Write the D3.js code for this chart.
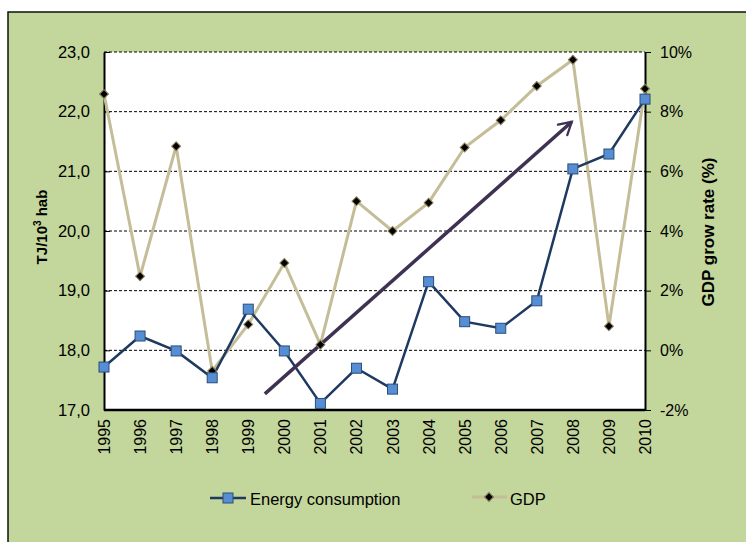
<!DOCTYPE html>
<html>
<head>
<meta charset="utf-8">
<script src="https://cdn.jsdelivr.net/npm/d3@7"></script>
<style>
  body { margin: 0; background: #fff; }
  svg { display: block; font-family: "Liberation Sans", Arial, sans-serif; }
</style>
</head>
<body>
<svg id="chart" width="746" height="542"></svg>
<script>
const years = [1995, 1996, 1997, 1998, 1999, 2000, 2001, 2002, 2003, 2004, 2005, 2006, 2007, 2008, 2009, 2010];
const energy = [17.72, 18.24, 17.99, 17.54, 18.69, 17.99, 17.11, 17.70, 17.35, 19.15, 18.48, 18.37, 18.83, 21.04, 21.29, 22.21];
const gdp = [8.59, 2.48, 6.84, -0.69, 0.87, 2.93, 0.19, 5.00, 4.00, 4.95, 6.80, 7.71, 8.86, 9.74, 0.81, 8.77];
const leftTicks = [17, 18, 19, 20, 21, 22, 23];
const rightTicks = [-2, 0, 2, 4, 6, 8, 10];
// trend arrow, in data units (year, TJ)
const trend = [[1999.46, 17.27], [2007.97, 21.83]];

const svg = d3.select('#chart');
const margin = { left: 104, right: 101, top: 52, bottom: 132 };
const w = 746 - margin.left - margin.right;
const h = 542 - margin.top - margin.bottom;

// chart background
svg.append('rect')
    .attr('x', 8).attr('y', 12)
    .attr('width', 746).attr('height', 542)
    .attr('fill', '#c3d69b')
    .attr('stroke', '#111').attr('stroke-width', 1.5);

const x = d3.scaleLinear().domain([1995, 2010]).range([0, w]);
const yL = d3.scaleLinear().domain([17, 23]).range([h, 0]);
const yR = d3.scaleLinear().domain([-2, 10]).range([h, 0]);

const g = svg.append('g').attr('transform', `translate(${margin.left},${margin.top})`);

g.append('rect').attr('width', w).attr('height', h).attr('fill', '#fff');

// dashed gridlines
g.selectAll('.grid')
    .data(leftTicks.slice(1))
    .enter()
    .append('line')
    .attr('x1', 0).attr('x2', w)
    .attr('y1', d => yL(d)).attr('y2', d => yL(d))
    .attr('stroke', '#000')
    .attr('stroke-width', 1)
    .attr('stroke-dasharray', '3,2');

// left axis
const leftAxis = g.append('g')
    .call(d3.axisLeft(yL).tickValues(leftTicks).tickSizeInner(-6).tickSizeOuter(0).tickPadding(14)
        .tickFormat(d => d3.format('.1f')(d).replace('.', ',')));
leftAxis.select('.domain').attr('stroke-width', 2);
leftAxis.selectAll('text').attr('font-size', 16.5).attr('fill', '#000');

// right axis
const rightAxis = g.append('g')
    .attr('transform', `translate(${w},0)`)
    .call(d3.axisRight(yR).tickValues(rightTicks).tickSize(6).tickSizeOuter(0).tickPadding(9)
        .tickFormat(d => d + '%'));
rightAxis.select('.domain').attr('stroke-width', 2);
rightAxis.selectAll('text').attr('font-size', 16).attr('fill', '#000');

// bottom axis
g.append('line')
    .attr('x1', 0).attr('x2', w)
    .attr('y1', h).attr('y2', h)
    .attr('stroke', '#000').attr('stroke-width', 2.5);

g.selectAll('.year')
    .data(years)
    .enter()
    .append('text')
    .attr('transform', d => `translate(${x(d) + 6},${h + 9}) rotate(-90)`)
    .attr('text-anchor', 'end')
    .attr('font-size', 16)
    .text(d => d);

// axis titles
svg.append('text')
    .attr('transform', 'translate(47,227) rotate(-90)')
    .attr('text-anchor', 'middle')
    .attr('font-size', 15)
    .attr('font-weight', 'bold')
    .html('TJ/10<tspan font-size="10" dy="-6">3</tspan><tspan dy="6"> hab</tspan>');

svg.append('text')
    .attr('transform', 'translate(714,232) rotate(-90)')
    .attr('text-anchor', 'middle')
    .attr('font-size', 17)
    .attr('font-weight', 'bold')
    .text('GDP grow rate (%)');

// GDP series
const gdpLine = d3.line().x((d, i) => x(years[i])).y(d => yR(d));
g.append('path')
    .datum(gdp)
    .attr('d', gdpLine)
    .attr('fill', 'none')
    .attr('stroke', '#c4bd97')
    .attr('stroke-width', 3);

// Energy series
const enLine = d3.line().x((d, i) => x(years[i])).y(d => yL(d));
g.append('path')
    .datum(energy)
    .attr('d', enLine)
    .attr('fill', 'none')
    .attr('stroke', '#1f3a60')
    .attr('stroke-width', 2.5);

// trend arrow
svg.append('defs').append('marker')
    .attr('id', 'arrow')
    .attr('viewBox', '0 0 10 10')
    .attr('refX', 8).attr('refY', 5)
    .attr('markerWidth', 5).attr('markerHeight', 5)
    .attr('markerUnits', 'strokeWidth')
    .attr('orient', 'auto')
    .append('path')
    .attr('d', 'M1,1 L8,5 L1,9')
    .attr('fill', 'none')
    .attr('stroke', '#3f3151')
    .attr('stroke-width', 1.3)
    .attr('stroke-linecap', 'round');

g.append('line')
    .attr('x1', x(trend[0][0])).attr('y1', yL(trend[0][1]))
    .attr('x2', x(trend[1][0])).attr('y2', yL(trend[1][1]))
    .attr('stroke', '#3f3151')
    .attr('stroke-width', 3.5)
    .attr('marker-end', 'url(#arrow)');

const diamond = d3.symbol().type(d3.symbolSquare).size(40);

g.selectAll('.gdpPt')
    .data(gdp)
    .enter()
    .append('path')
    .attr('transform', (d, i) => `translate(${x(years[i])},${yR(d)}) rotate(45)`)
    .attr('d', diamond)
    .attr('fill', '#000')
    .attr('stroke', '#8b8158')
    .attr('stroke-width', 1);

g.selectAll('.enPt')
    .data(energy)
    .enter()
    .append('rect')
    .attr('x', (d, i) => x(years[i]) - 5)
    .attr('y', d => yL(d) - 5)
    .attr('width', 10).attr('height', 10)
    .attr('fill', '#558ed5')
    .attr('stroke', '#2c4d75')
    .attr('stroke-width', 1);

// legend
const leg = svg.append('g');
leg.append('line').attr('x1', 210).attr('x2', 246).attr('y1', 498).attr('y2', 498)
    .attr('stroke', '#1f3a60').attr('stroke-width', 2.5);
leg.append('rect').attr('x', 223).attr('y', 493).attr('width', 10).attr('height', 10)
    .attr('fill', '#558ed5').attr('stroke', '#2c4d75');
leg.append('text').attr('x', 250).attr('y', 505).attr('font-size', 16.5).text('Energy consumption');

leg.append('line').attr('x1', 472).attr('x2', 507).attr('y1', 497).attr('y2', 497)
    .attr('stroke', '#c4bd97').attr('stroke-width', 3);
leg.append('path').attr('transform', 'translate(489,497) rotate(45)').attr('d', diamond)
    .attr('fill', '#000').attr('stroke', '#8b8158');
leg.append('text').attr('x', 510).attr('y', 505).attr('font-size', 16.5).text('GDP');
</script>
</body>
</html>
